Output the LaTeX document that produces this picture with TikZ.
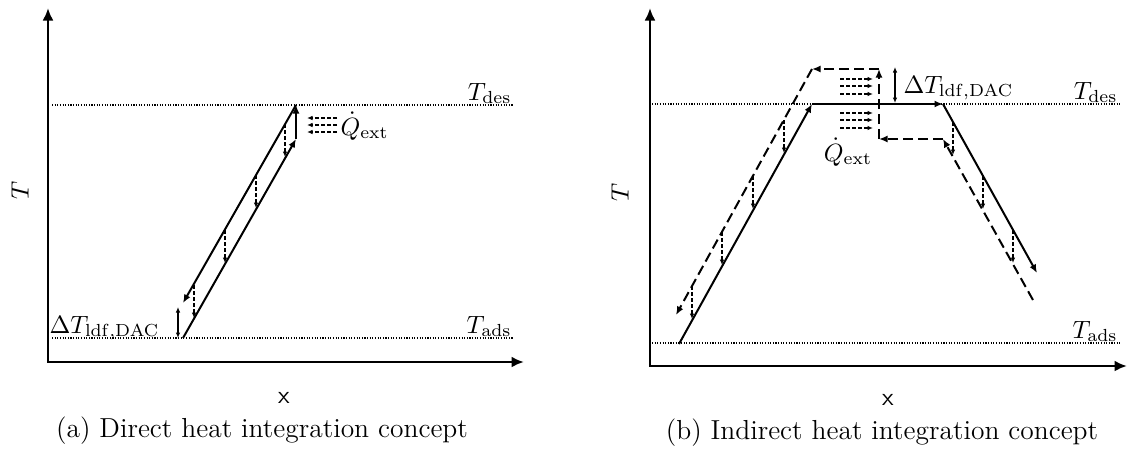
\documentclass[tikz,border=0pt]{standalone}
\usetikzlibrary{arrows.meta}
\begin{document}
\begin{tikzpicture}[x=0.4pt,y=-0.4pt,
  axis/.style={line width=1.1pt,{Latex[length=5pt,width=4.4pt]}-{Latex[length=5pt,width=4.4pt]}},
  level/.style={line width=0.45pt,dash pattern=on 0.45pt off 0.6pt},
  flow/.style={line width=0.8pt,-{Latex[length=3.4pt,width=2.8pt]}},
  flowd/.style={flow,dash pattern=on 4pt off 2pt},
  heat/.style={line width=0.45pt,dash pattern=on 1.6pt off 0.8pt,-{Latex[length=2.2pt,width=1.8pt]}},
  dT/.style={line width=0.45pt,{Latex[length=2.2pt,width=1.8pt]}-{Latex[length=2.2pt,width=1.8pt]}},
  lbl/.style={inner sep=0pt,font=\fontsize{10}{12}\selectfont},
  captxt/.style={inner sep=0pt,font=\fontsize{11}{13}\selectfont}]
\useasboundingbox (0,0) rectangle (1129,455);

% ---------------- (a) ----------------
\coordinate (aO) at (48,362);
\coordinate (aY) at (48,8);
\coordinate (aX) at (524,362);
\draw[axis] (aY) -- (aO) -- (aX);

\coordinate (aD1) at (52,105);  \coordinate (aD2) at (513,105);
\coordinate (aA1) at (52,338);  \coordinate (aA2) at (513,338);
\draw[level] (aD1) -- (aD2);
\draw[level] (aA1) -- (aA2);
\node[lbl,anchor=base east] (aTdes) at (512,100) {$T_{\mathrm{des}}$};
\node[lbl,anchor=base east] (aTads) at (512,333) {$T_{\mathrm{ads}}$};
\node[lbl,rotate=90] (aT) at (20,190) {$T$};
\node[lbl] (ax) at (284,398) {\textsf{x}};
\node[captxt,anchor=base] (acap) at (262,437) {(a) Direct heat integration concept};

\coordinate (aL0) at (183,338);
\coordinate (aL1) at (296,139);
\coordinate (aL2) at (296,105);
\coordinate (aL3) at (183,303);
\draw[flow] (aL0) -- (aL1);
\draw[flow] (aL1) -- (aL2);
\draw[flow] (aL2) -- (aL3);

\foreach \i/\x/\ya/\yb in {1/285/124/157,2/256/175/208,3/225/230/263,4/194/285/318}{
  \coordinate (ah\i s) at (\x,\ya);
  \coordinate (ah\i e) at (\x,\yb);
  \draw[heat] (ah\i s) -- (ah\i e);
}

\foreach \i/\y in {1/118,2/125,3/132}{
  \coordinate (aq\i s) at (337,\y);
  \coordinate (aq\i e) at (307,\y);
  \draw[heat] (aq\i s) -- (aq\i e);
}
\node[lbl,anchor=west] (aQ) at (340,126) {$\dot{Q}_{\mathrm{ext}}$};

\coordinate (adT1) at (178,338);
\coordinate (adT2) at (178,307);
\draw[dT] (adT1) -- (adT2);
\node[lbl,anchor=base east] (adTl) at (160,333) {$\Delta T_{\mathrm{ldf,DAC}}$};

% ---------------- (b) ----------------
\coordinate (bO) at (650,366);
\coordinate (bY) at (650,8);
\coordinate (bX) at (1127,366);
\draw[axis] (bY) -- (bO) -- (bX);

\coordinate (bD1) at (652,104);  \coordinate (bD2) at (1120,104);
\coordinate (bA1) at (652,343);  \coordinate (bA2) at (1120,343);
\draw[level] (bD1) -- (bD2);
\draw[level] (bA1) -- (bA2);
\node[lbl,anchor=base east] (bTdes) at (1118,99) {$T_{\mathrm{des}}$};
\node[lbl,anchor=base east] (bTads) at (1118,338) {$T_{\mathrm{ads}}$};
\node[lbl,rotate=90] (bT) at (620,192) {$T$};
\node[lbl] (bx) at (888,400) {\textsf{x}};
\node[captxt,anchor=base] (bcap) at (882,439) {(b) Indirect heat integration concept};

% solid path
\coordinate (bS0) at (679,344);
\coordinate (bS1) at (812,104);
\coordinate (bS2) at (943,104);
\coordinate (bS3) at (1037,273);
\draw[flow] (bS0) -- (bS1);
\draw[flow] (bS1) -- (bS2);
\draw[flow] (bS2) -- (bS3);

% dashed path
\coordinate (bP0) at (1033,300);
\coordinate (bP1) at (943,139);
\coordinate (bP2) at (879,139);
\coordinate (bP3) at (879,69);
\coordinate (bP4) at (812,69);
\coordinate (bP5) at (676,315);
\draw[flowd] (bP0) -- (bP1);
\draw[flowd] (bP1) -- (bP2);
\draw[flowd] (bP2) -- (bP3);
\draw[flowd] (bP3) -- (bP4);
\draw[flowd] (bP4) -- (bP5);

\foreach \i/\x/\ya/\yb in {1/784/120/153,2/753/176/209,3/722/232/265,4/692/286/319,
                           5/953/122/155,6/983/176/209,7/1013/230/263}{
  \coordinate (bh\i s) at (\x,\ya);
  \coordinate (bh\i e) at (\x,\yb);
  \draw[heat] (bh\i s) -- (bh\i e);
}

\foreach \i/\y in {1/79,2/86,3/94,4/113,5/120,6/128}{
  \coordinate (bq\i s) at (840,\y);
  \coordinate (bq\i e) at (873,\y);
  \draw[heat] (bq\i s) -- (bq\i e);
}
\node[lbl] (bQ) at (848,152) {$\dot{Q}_{\mathrm{ext}}$};

\coordinate (bdT1) at (895,67);
\coordinate (bdT2) at (895,103);
\draw[dT] (bdT1) -- (bdT2);
\node[lbl,anchor=base west] (bdTl) at (903,93) {$\Delta T_{\mathrm{ldf,DAC}}$};
\end{tikzpicture}
\end{document}
